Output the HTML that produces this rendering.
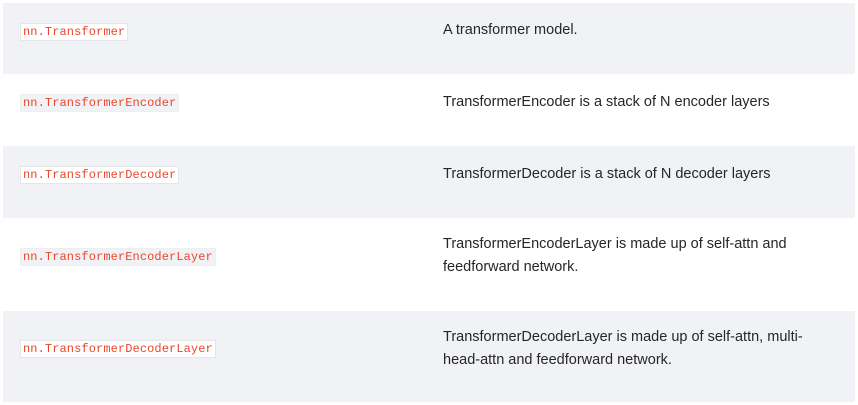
<!DOCTYPE html>
<html><head><style>
body{margin:0;width:858px;height:405px;background:#fff;position:relative;font-family:"Liberation Sans",sans-serif;overflow:hidden}
.row{position:absolute;left:3px;width:852px}
.g{background:#f1f2f5}
code{position:absolute;left:17px;font-family:"Liberation Mono",monospace;font-size:12px;color:#e8472a;padding:1px 2px;border:1px solid #e6e6e6;line-height:14px;letter-spacing:0.1px}
.g code{background:#fff}
.w code{background:#f1f2f5;border-color:#eee}
.d{position:absolute;left:440px;font-size:14.5px;color:#262626;line-height:23px;width:385px}
</style></head><body>
<div class="row g" style="top:3px;height:71px"><code style="top:20px">nn.Transformer</code><div class="d" style="top:16px">A transformer model.</div></div>
<div class="row w" style="top:74px;height:72px"><code style="top:20px">nn.TransformerEncoder</code><div class="d" style="top:17px">TransformerEncoder is a stack of N encoder layers</div></div>
<div class="row g" style="top:146px;height:72px"><code style="top:20px">nn.TransformerDecoder</code><div class="d" style="top:17px">TransformerDecoder is a stack of N decoder layers</div></div>
<div class="row w" style="top:218px;height:93px"><code style="top:30px">nn.TransformerEncoderLayer</code><div class="d" style="top:15px">TransformerEncoderLayer is made up of self-attn and feedforward network.</div></div>
<div class="row g" style="top:311px;height:91px"><code style="top:29px">nn.TransformerDecoderLayer</code><div class="d" style="top:15px">TransformerDecoderLayer is made up of self-attn, multi-head-attn and feedforward network.</div></div>
</body></html>
